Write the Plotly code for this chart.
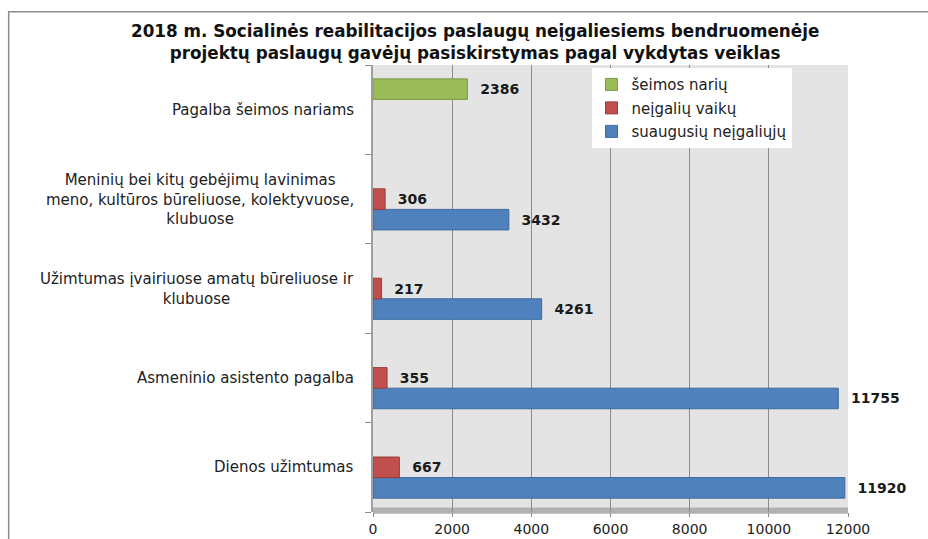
import plotly.graph_objects as go

categories = [
    "Dienos užimtumas",
    "Asmeninio asistento pagalba",
    "Užimtumas įvairiuose amatų būreliuose ir<br>klubuose",
    "Meninių bei kitų gebėjimų lavinimas<br>meno, kultūros būreliuose, kolektyvuose,<br>klubuose",
    "Pagalba šeimos nariams",
]
cat_keys = ["c1", "c2", "c3", "c4", "c5"]
suaugusiu = [11920, 11755, 4261, 3432, None]
vaiku = [667, 355, 217, 306, None]
seimos = [None, None, None, None, 2386]
series_names = ["suaugusių neįgaliųjų", "neįgalių vaikų", "šeimos narių"]
x_ticks = [0, 2000, 4000, 6000, 8000, 10000, 12000]

colors = ["#4f81bd", "#c0504d", "#9bbb59"]
edges = ["#3d6a9e", "#9c3b39", "#7d9a45"]

fig = go.Figure()
for i, (name, vals, c, e) in enumerate(zip(series_names, [suaugusiu, vaiku, seimos], colors, edges)):
    fig.add_trace(go.Bar(
        y=cat_keys, x=vals, orientation="h", name=name, legendgroup=f"g{i}",
        legendrank=3 - i,
        marker=dict(color=c, line=dict(color=e, width=1)),
        text=[("  " + str(v)) if v is not None else "" for v in vals],
        textposition="outside", cliponaxis=False,
        textfont=dict(family="DejaVu Sans", size=14, color="#1a1a1a", weight="bold"),
    ))

for key, lab in zip(cat_keys, categories):
    fig.add_annotation(x=-0.036, xref="paper", y=key, yref="y", text=lab,
                       showarrow=False, xanchor="right", align="center",
                       font=dict(family="DejaVu Sans", size=15, color="#222"))

# outer border
fig.add_shape(type="rect", xref="paper", yref="paper", x0=-0.767, x1=1.3, y0=-0.3, y1=1.119,
              line=dict(color="#8c8c8c", width=1.5), fillcolor="rgba(0,0,0,0)", layer="below")
# floor
fig.add_shape(type="rect", xref="paper", yref="paper", x0=0, x1=1.0, y0=-0.004, y1=0.01,
              line=dict(width=0), fillcolor="#b0b0b0", layer="below")

fig.update_layout(
    width=928, height=539,
    margin=dict(l=373, r=80, t=65, b=27),
    paper_bgcolor="white", plot_bgcolor="#e4e4e4",
    barmode="group", bargap=0.31, bargroupgap=0,
    title=dict(text="2018 m. Socialinės reabilitacijos paslaugų neįgaliesiems bendruomenėje<br>projektų paslaugų gavėjų pasiskirstymas pagal vykdytas veiklas",
               x=0.512, xref="container", xanchor="center", y=0.931, yanchor="top",
               font=dict(family="DejaVu Sans", size=16.8, color="#111", weight="bold")),
    showlegend=True,
    legend=dict(x=0.46, y=0.993, xanchor="left", yanchor="top", bgcolor="white",
                traceorder="grouped", tracegroupgap=1,
                font=dict(family="DejaVu Sans", size=15, color="#222"),
                itemwidth=30),
    xaxis=dict(range=[0, 12000], tickvals=x_ticks, tickformat="d", showgrid=True,
               gridcolor="#8c8c8c", gridwidth=1, automargin=False,
               zeroline=False, showline=False, ticks="outside", ticklen=4, tickcolor="#8c8c8c",
               tickfont=dict(family="DejaVu Sans", size=14, color="#222")),
    yaxis=dict(categoryorder="array", categoryarray=cat_keys, showticklabels=False,
               ticks="outside", tickson="boundaries", ticklen=6, tickcolor="#8c8c8c",
               showline=True, linecolor="#a0a0a0", linewidth=2, showgrid=False, zeroline=False),
)
fig.write_html("out.html", config={"displayModeBar": False},
               post_script="document.body.style.margin='0';")
